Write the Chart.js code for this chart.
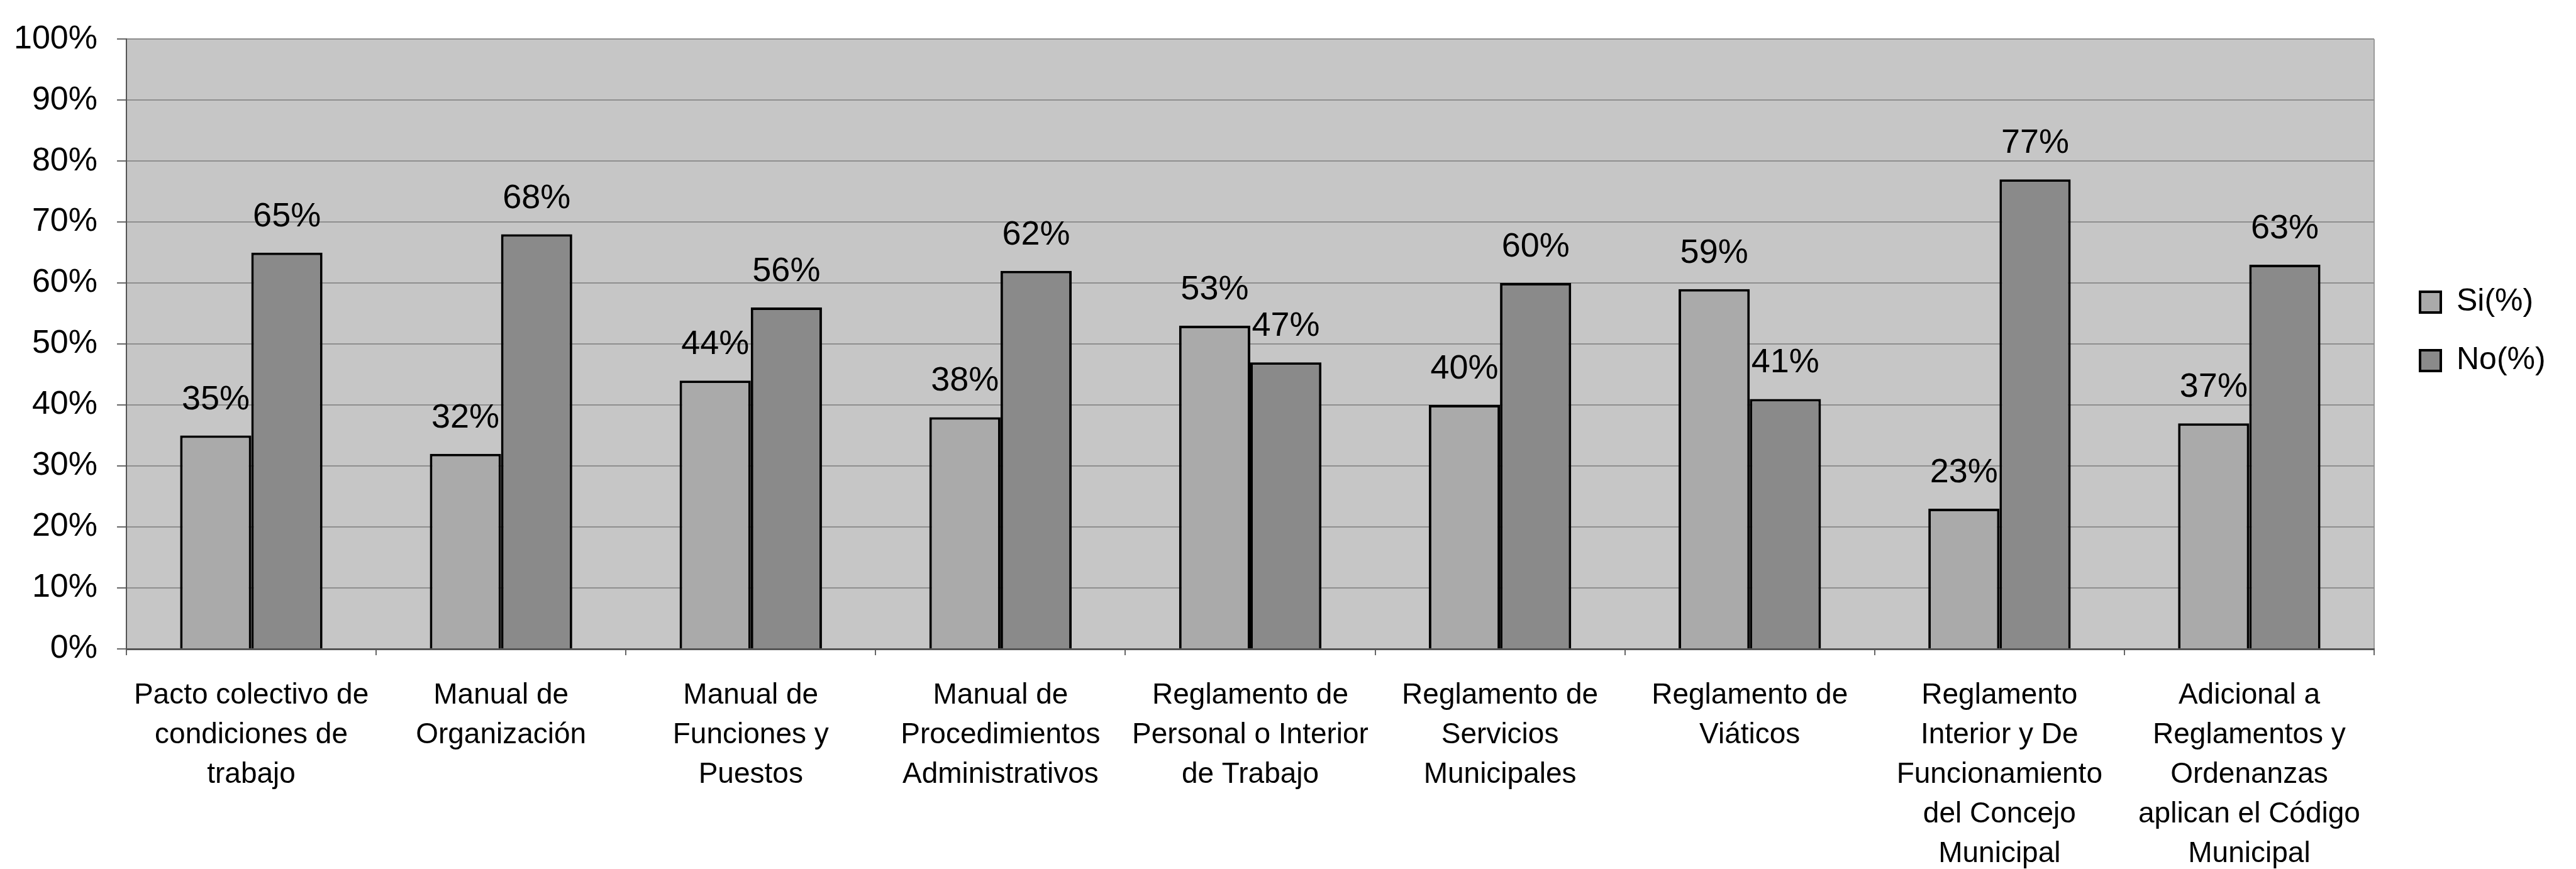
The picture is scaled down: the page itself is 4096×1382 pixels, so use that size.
<!DOCTYPE html>
<html><head><meta charset="utf-8">
<script src="https://cdn.jsdelivr.net/npm/chart.js@4.4.1/dist/chart.umd.min.js"></script>
<style>html,body{margin:0;padding:0;background:#fff;} #wrap{width:4096px;height:1382px;}</style>
</head><body><div id="wrap"><canvas id="c" width="4096" height="1382"></canvas></div>
<script>
const categories = [
  ['Pacto colectivo de','condiciones de','trabajo'],
  ['Manual de','Organización'],
  ['Manual de','Funciones y','Puestos'],
  ['Manual de','Procedimientos','Administrativos'],
  ['Reglamento de','Personal o Interior','de Trabajo'],
  ['Reglamento de','Servicios','Municipales'],
  ['Reglamento de','Viáticos'],
  ['Reglamento','Interior y De','Funcionamiento','del Concejo','Municipal'],
  ['Adicional a','Reglamentos y','Ordenanzas','aplican el Código','Municipal']
];
const seriesNames = ['Si(%)','No(%)'];
const siValues = [35,32,44,38,53,40,59,23,37];
const noValues = [65,68,56,62,47,60,41,77,63];
const yTickLabels = ['0%','10%','20%','30%','40%','50%','60%','70%','80%','90%','100%'];

const FONT = "'Liberation Sans', Arial, sans-serif";
const PLOT_BG = '#c6c6c6';
const GRID = '#8e8e8e';

const plotBg = {
  id: 'plotBg',
  beforeDraw(chart) {
    const {ctx, chartArea: a} = chart;
    ctx.save();
    ctx.fillStyle = PLOT_BG;
    ctx.fillRect(a.left, a.top, a.right - a.left, a.bottom - a.top);
    ctx.strokeStyle = '#9a9a9a';
    ctx.lineWidth = 2;
    ctx.beginPath();
    ctx.moveTo(a.right, a.top);
    ctx.lineTo(a.right, a.bottom);
    ctx.stroke();
    ctx.restore();
  }
};

const dataLabels = {
  id: 'dataLabels',
  afterDatasetsDraw(chart) {
    const {ctx} = chart;
    ctx.save();
    ctx.font = '54px ' + FONT;
    ctx.fillStyle = '#000';
    ctx.textAlign = 'center';
    ctx.textBaseline = 'alphabetic';
    chart.data.datasets.forEach((ds, di) => {
      const meta = chart.getDatasetMeta(di);
      meta.data.forEach((bar, i) => {
        ctx.fillText(ds.data[i] + '%', bar.x, bar.y - 42);
      });
    });
    ctx.restore();
  }
};

const legendPlace = {
  id: 'legendPlace',
  afterInit(chart) {
    const lg = chart.legend;
    if (!lg) return;
    const orig = lg.fit.bind(lg);
    lg.fit = function() { orig(); if (this.options.display) this.width = 321; };
  },
  afterLayout(chart) {
    const lg = chart.legend;
    if (!lg) return;
    const w = lg.right - lg.left;
    lg.left = chart.chartArea.right + 30;
    lg.right = lg.left + w;
    lg.top -= 185;
    lg.bottom -= 185;
  }
};

new Chart(document.getElementById('c'), {
  type: 'bar',
  data: {
    labels: categories,
    datasets: [
      { label: seriesNames[0], data: siValues, backgroundColor: '#aaaaaa', borderColor: '#000', borderWidth: 4 },
      { label: seriesNames[1], data: noValues, backgroundColor: '#8a8a8a', borderColor: '#000', borderWidth: 4 }
    ]
  },
  options: {
    responsive: false,
    animation: false,
    devicePixelRatio: 1,
    layout: { padding: { top: 42, left: 0, right: 0, bottom: 0 } },
    datasets: { bar: { categoryPercentage: 0.57, barPercentage: 1.0 } },
    plugins: {
      legend: {
        position: 'right',
        labels: {
          font: { family: FONT, size: 50 },
          color: '#000',
          boxWidth: 33,
          boxHeight: 33,
          padding: 43
        }
      },
      tooltip: { enabled: false },
      title: { display: false }
    },
    scales: {
      x: {
        offset: true,
        grid: { display: true, drawOnChartArea: false, drawTicks: true, tickLength: 10, offset: true, color: '#666', lineWidth: 2 },
        border: { display: true, color: '#555', width: 3 },
        ticks: {
          autoSkip: false, maxRotation: 0, minRotation: 0,
          font: { family: FONT, size: 46, lineHeight: 1.37 },
          color: '#000', padding: 33
        },
        afterFit(scale) { scale.height = 350; }
      },
      y: {
        min: 0, max: 100,
        ticks: {
          stepSize: 10,
          font: { family: FONT, size: 52 },
          color: '#000', padding: 31,
          callback: (v) => yTickLabels[Math.round(v / 10)]
        },
        grid: { color: GRID, lineWidth: 2, drawTicks: true, tickLength: 15, tickColor: '#666' },
        border: { display: true, color: '#555', width: 2 },
        afterFit(scale) { scale.width = 201; }
      }
    }
  },
  plugins: [plotBg, dataLabels, legendPlace]
});
</script>
</body></html>
